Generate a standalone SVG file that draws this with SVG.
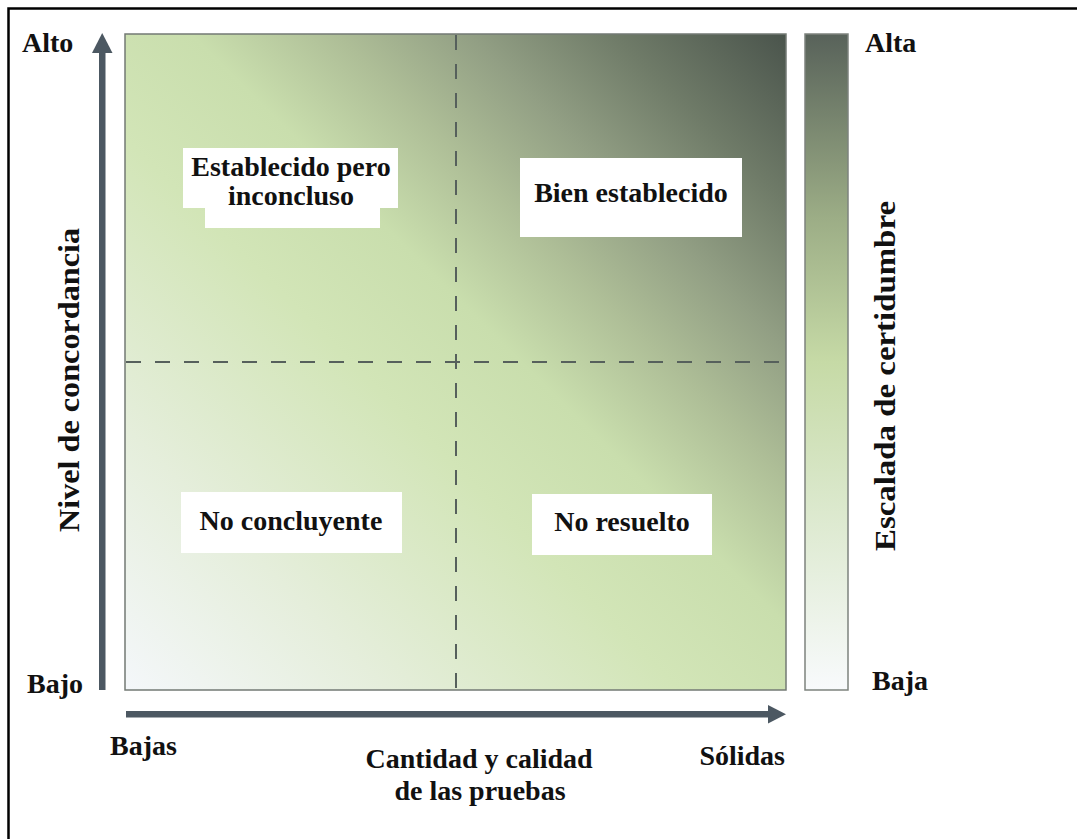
<svg xmlns="http://www.w3.org/2000/svg" width="1077" height="839" viewBox="0 0 1077 839">
  <style>
    .t { font-family: "Liberation Serif", "Times New Roman", serif; font-weight: bold; fill: #111; font-size: 28px; }
    .tv { font-size: 30px; }
    .box { fill: #ffffff; stroke: none; }
    .dash { stroke: #56605c; stroke-width: 2; stroke-dasharray: 15 14; fill: none; }
    .axis { fill: #4c5862; }
  </style>
  <defs>
    <linearGradient id="gMain" x1="0" y1="1" x2="1" y2="0">
      <stop offset="0" stop-color="#f4f7fa"/>
      <stop offset="0.2" stop-color="#e5eedb"/>
      <stop offset="0.42" stop-color="#d2e5b7"/>
      <stop offset="0.55" stop-color="#c9dead"/>
      <stop offset="0.66" stop-color="#aebe97"/>
      <stop offset="0.76" stop-color="#929f84"/>
      <stop offset="0.87" stop-color="#6f7b68"/>
      <stop offset="1" stop-color="#4a544c"/>
    </linearGradient>
    <linearGradient id="gBar" x1="0" y1="0" x2="0" y2="1">
      <stop offset="0" stop-color="#58625a"/>
      <stop offset="0.28" stop-color="#9cad86"/>
      <stop offset="0.5" stop-color="#c6daa6"/>
      <stop offset="0.7" stop-color="#d9e7c9"/>
      <stop offset="1" stop-color="#f8fafc"/>
    </linearGradient>
  </defs>

  <rect x="0" y="0" width="1077" height="839" fill="#ffffff"/>
  <rect id="frame" x="8.5" y="8.5" width="1085" height="850" fill="none" stroke="#000" stroke-width="2.5"/>

  <g id="matrix">
    <rect x="125" y="34" width="661" height="656" fill="url(#gMain)" stroke="#737a74" stroke-width="1.5"/>
    <line class="dash" x1="456" y1="35" x2="456" y2="689"/>
    <line class="dash" x1="126" y1="362" x2="785" y2="362"/>
  </g>

  <g id="certainty-bar">
    <rect x="805" y="34" width="43" height="656" fill="url(#gBar)" stroke="#7d837e" stroke-width="1.5"/>
    <text class="t" x="865" y="52">Alta</text>
    <text class="t" x="872" y="690">Baja</text>
    <text class="t tv" transform="translate(895,376) rotate(-90)" text-anchor="middle" textLength="350" lengthAdjust="spacingAndGlyphs">Escalada de certidumbre</text>
  </g>

  <g id="connectors">
    <rect class="axis" x="99" y="50" width="6.5" height="640"/>
    <polygon class="axis" points="102.2,33 92,53 112.5,53"/>
    <rect class="axis" x="126" y="711" width="645" height="6.5"/>
    <polygon class="axis" points="786,714.2 768,705 768,723.5"/>
  </g>

  <g id="y-axis-labels">
    <text class="t" x="22" y="52">Alto</text>
    <text class="t" x="27" y="693">Bajo</text>
    <text class="t tv" transform="translate(79,380) rotate(-90)" text-anchor="middle" textLength="304" lengthAdjust="spacingAndGlyphs">Nivel de concordancia</text>
  </g>

  <g id="x-axis-labels">
    <text class="t" x="110" y="755">Bajas</text>
    <text class="t" x="785" y="765" text-anchor="end">Sólidas</text>
    <text class="t" x="479" y="768" text-anchor="middle">Cantidad y calidad</text>
    <text class="t" x="480" y="800" text-anchor="middle">de las pruebas</text>
  </g>

  <g id="node-establecido">
    <rect class="box" x="183" y="148" width="215" height="60"/>
    <rect class="box" x="205" y="190" width="175" height="38"/>
    <text class="t" x="291" y="176" text-anchor="middle">Establecido pero</text>
    <text class="t" x="291" y="205" text-anchor="middle">inconcluso</text>
  </g>

  <g id="node-bien">
    <rect class="box" x="520" y="158" width="222" height="79"/>
    <text class="t" x="631" y="202" text-anchor="middle">Bien establecido</text>
  </g>

  <g id="node-noconcluyente">
    <rect class="box" x="181" y="492" width="221" height="61"/>
    <text class="t" x="291" y="530" text-anchor="middle">No concluyente</text>
  </g>

  <g id="node-noresuelto">
    <rect class="box" x="532" y="494" width="180" height="61"/>
    <text class="t" x="622" y="531" text-anchor="middle">No resuelto</text>
  </g>
</svg>
